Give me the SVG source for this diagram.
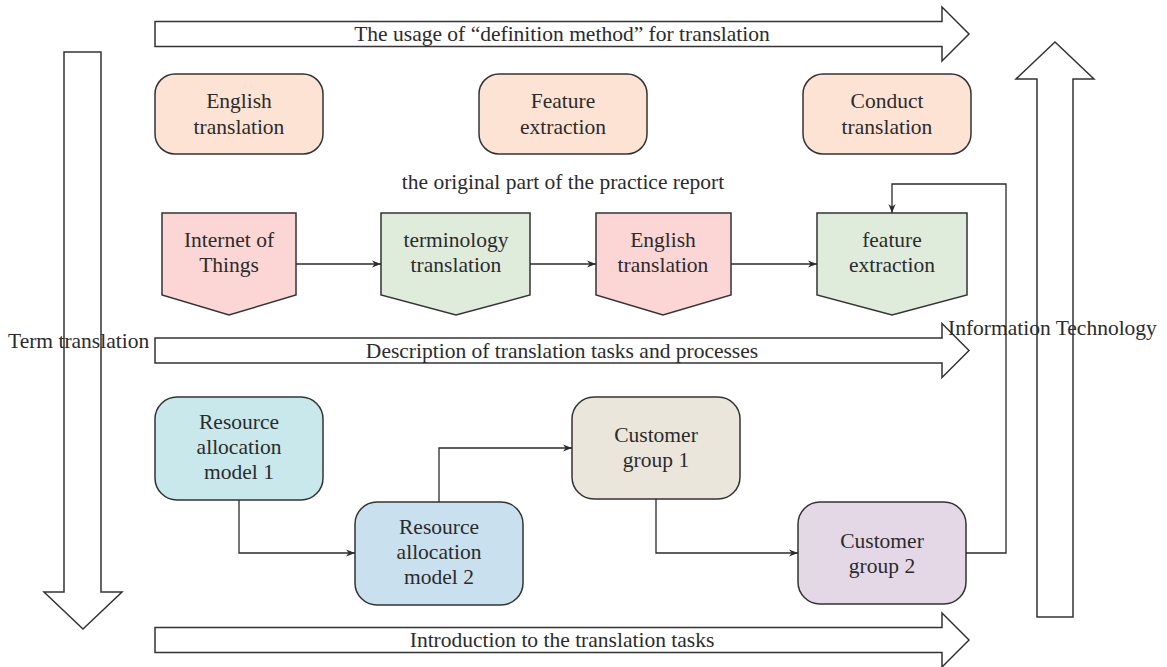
<svg xmlns="http://www.w3.org/2000/svg" width="1167" height="667" viewBox="0 0 1167 667">
<defs>
<marker id="ah" viewBox="0 0 10 10" refX="10" refY="5" markerWidth="9" markerHeight="9" markerUnits="userSpaceOnUse" orient="auto">
<path d="M0,1 L10,5 L0,9 L3,5 Z" fill="#2b2b2b"/>
</marker>
<style>
text{font-family:"Liberation Serif","Times New Roman",serif;fill:#2b2b2b;font-size:21.5px}
.c{text-anchor:middle}
.big{fill:#fff;stroke:#333;stroke-width:1.5}
.box{stroke:#333;stroke-width:1.5}
.conn{fill:none;stroke:#2b2b2b;stroke-width:1.3;marker-end:url(#ah)}
.peach{fill:#fde3d3}
.pink{fill:#fcd6d5}
.green{fill:#dfecdb}
</style>
</defs>
<rect width="1167" height="667" fill="#fff"/>

<g id="arrow-top">
<polygon class="big" points="155,21.5 942,21.5 942,7 969,34 942,61 942,46.5 155,46.5"/>
<text class="c" x="562" y="41">The usage of “definition method” for translation</text>
</g>
<g id="arrow-mid">
<polygon class="big" points="155,338 942,338 942,323.5 969,350.5 942,377.5 942,363 155,363"/>
<text class="c" x="562" y="357.5">Description of translation tasks and processes</text>
</g>
<g id="arrow-bottom">
<polygon class="big" points="155,627.5 942,627.5 942,613 969,640 942,667 942,652.5 155,652.5"/>
<text class="c" x="562" y="647">Introduction to the translation tasks</text>
</g>
<g id="arrow-left">
<polygon class="big" points="64,52 101,52 101,592 122,592 83,629 44,592 64,592"/>
<text x="8" y="348">Term translation</text>
</g>
<g id="arrow-right">
<polygon class="big" points="1037,617 1073,617 1073,79 1094,79 1055,42 1016,79 1037,79"/>
<text x="948" y="335">Information Technology</text>
</g>

<g id="top-english">
<rect class="box peach" x="155" y="74" width="168" height="80" rx="20"/>
<text class="c" x="239" y="108">English</text>
<text class="c" x="239" y="134">translation</text>
</g>
<g id="top-feature">
<rect class="box peach" x="479" y="74" width="168" height="80" rx="20"/>
<text class="c" x="563" y="108">Feature</text>
<text class="c" x="563" y="134">extraction</text>
</g>
<g id="top-conduct">
<rect class="box peach" x="803" y="74" width="168" height="80" rx="20"/>
<text class="c" x="887" y="108">Conduct</text>
<text class="c" x="887" y="134">translation</text>
</g>

<g id="label-original">
<text class="c" x="563" y="189">the original part of the practice report</text>
</g>

<g id="p-iot">
<path class="box pink" d="M162,213 H296 V295 L229,315 L162,295 Z"/>
<text class="c" x="229" y="247">Internet of</text>
<text class="c" x="229" y="272">Things</text>
</g>
<g id="p-term">
<path class="box green" d="M381,213 H530 V295 L456,315 L381,295 Z"/>
<text class="c" x="456" y="247">terminology</text>
<text class="c" x="456" y="272">translation</text>
</g>
<g id="p-english">
<path class="box pink" d="M596,213 H731 V295 L663,315 L596,295 Z"/>
<text class="c" x="663" y="247">English</text>
<text class="c" x="663" y="272">translation</text>
</g>
<g id="p-feature">
<path class="box green" d="M817,213 H967 V295 L892,315 L817,295 Z"/>
<text class="c" x="892" y="247">feature</text>
<text class="c" x="892" y="272">extraction</text>
</g>

<g id="ram1">
<rect class="box" fill="#c8e8ec" x="155" y="397" width="168" height="103" rx="22"/>
<text class="c" x="239" y="429">Resource</text>
<text class="c" x="239" y="454">allocation</text>
<text class="c" x="239" y="479">model 1</text>
</g>
<g id="ram2">
<rect class="box" fill="#c9e1ef" x="355" y="502" width="168" height="103" rx="22"/>
<text class="c" x="439" y="534">Resource</text>
<text class="c" x="439" y="559">allocation</text>
<text class="c" x="439" y="584">model 2</text>
</g>
<g id="cg1">
<rect class="box" fill="#ebe6db" x="572" y="397" width="168" height="102" rx="22"/>
<text class="c" x="656" y="442">Customer</text>
<text class="c" x="656" y="467">group 1</text>
</g>
<g id="cg2">
<rect class="box" fill="#e4d8e7" x="798" y="502" width="168" height="102" rx="22"/>
<text class="c" x="882" y="548">Customer</text>
<text class="c" x="882" y="573">group 2</text>
</g>

<g id="connectors">
<path class="conn" d="M296,264 H381"/>
<path class="conn" d="M530,264 H596"/>
<path class="conn" d="M731,264 H817"/>
<path class="conn" d="M239,500 V553 H355"/>
<path class="conn" d="M439,502 V448 H572"/>
<path class="conn" d="M656,499 V553 H798"/>
<path class="conn" d="M966,553 H1006 V184 H892 V213"/>
</g>
</svg>
